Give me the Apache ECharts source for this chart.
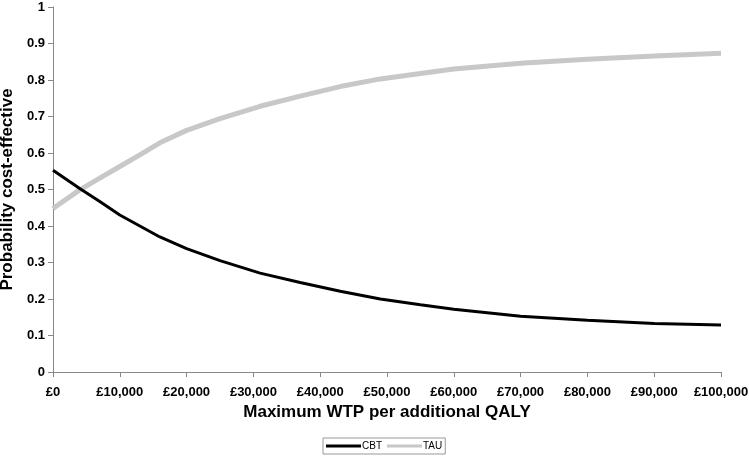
<!DOCTYPE html>
<html><head><meta charset="utf-8">
<script src="https://cdn.jsdelivr.net/npm/echarts@6/dist/echarts.min.js"></script>
<style>html,body{margin:0;padding:0;background:#fff}#c{width:749px;height:457px}</style>
</head><body><div id="c"></div>
<script>
const wtp = [0, 4000, 7000, 10000, 13000, 16000, 20000, 25000, 31000, 37000, 43000, 49000, 55000, 60000, 70000, 80000, 90000, 100000];
const cbt = [0.553, 0.503, 0.467, 0.430, 0.400, 0.370, 0.338, 0.305, 0.271, 0.245, 0.221, 0.200, 0.184, 0.172, 0.153, 0.142, 0.133, 0.129];
const tau = [0.448, 0.499, 0.531, 0.563, 0.595, 0.628, 0.662, 0.694, 0.728, 0.756, 0.782, 0.803, 0.818, 0.830, 0.846, 0.857, 0.866, 0.873];
const seriesNames = ['CBT', 'TAU'];
const xTitle = 'Maximum WTP per additional QALY';
const yTitle = 'Probability cost-effective';

const chart = echarts.init(document.getElementById('c'));
const fmt = v => '£' + v.toLocaleString('en-GB');
const FF = 'Liberation Sans, Arial, sans-serif';
chart.setOption({
  animation: false,
  backgroundColor: '#fff',
  grid: {left: 53, right: 28, top: 7, bottom: 85, containLabel: false, outerBoundsMode: 'none'},
  legend: {
    left: 323, top: 438,
    data: seriesNames,
    icon: 'rect', itemWidth: 35, itemHeight: 3, itemGap: 5,
    borderColor: '#999', borderWidth: 1, padding: [3, 3],
    textStyle: {fontFamily: FF, fontSize: 10, color: '#000', padding: [0, 0, 0, -4]}
  },
  xAxis: {
    type: 'value', min: 0, max: 100000, interval: 10000,
    name: xTitle, nameLocation: 'middle', nameGap: 27,
    nameTextStyle: {fontFamily: FF, fontWeight: 'bold', fontSize: 17, color: '#000'},
    axisLine: {lineStyle: {color: '#888'}},
    axisTick: {show: true, length: 5, lineStyle: {color: '#888'}},
    splitLine: {show: false},
    axisLabel: {formatter: fmt, fontFamily: FF, fontWeight: 'bold', fontSize: 13, color: '#000', margin: 14, showMaxLabel: true, hideOverlap: false}
  },
  yAxis: {
    type: 'value', min: 0, max: 1, interval: 0.1,
    name: yTitle, nameLocation: 'middle', nameGap: 36, nameRotate: 90,
    nameTextStyle: {fontFamily: FF, fontWeight: 'bold', fontSize: 17, color: '#000'},
    axisLine: {show: true, lineStyle: {color: '#888'}},
    axisTick: {show: true, length: 5, lineStyle: {color: '#888'}},
    splitLine: {show: false},
    axisLabel: {formatter: v => String(Math.round(v * 10) / 10), fontFamily: FF, fontWeight: 'bold', fontSize: 13, color: '#000', margin: 8}
  },
  series: [
    {name: seriesNames[0], type: 'line', showSymbol: false, symbol: 'none', z: 3,
     data: wtp.map((x, i) => [x, cbt[i]]),
     itemStyle: {color: '#000'}, lineStyle: {color: '#000', width: 3}},
    {name: seriesNames[1], type: 'line', showSymbol: false, symbol: 'none', z: 2,
     data: wtp.map((x, i) => [x, tau[i]]),
     itemStyle: {color: '#c8c8c8'}, lineStyle: {color: '#c8c8c8', width: 5}}
  ]
});
</script></body></html>
